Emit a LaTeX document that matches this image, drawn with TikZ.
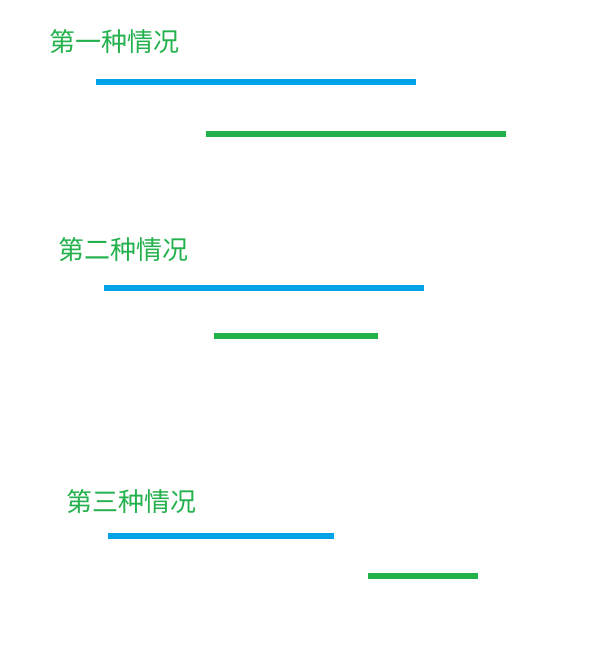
\documentclass[tikz,border=0pt]{standalone}
\usepackage{fontspec}
\newfontfamily\cjk{Noto Sans CJK SC}
\definecolor{lineblue}{HTML}{00A2E8}
\definecolor{linegreen}{HTML}{22B14C}
\begin{document}
\begin{tikzpicture}[x=0.75pt,y=-0.75pt,
  title/.style={inner sep=0pt,text=linegreen,font=\cjk\fontsize{19.5pt}{20pt}\selectfont},
  bar/.style={line width=4.5pt,line cap=butt},
  bluebar/.style={bar,draw=lineblue},
  greenbar/.style={bar,draw=linegreen}]
\useasboundingbox (0,0) rectangle (594,645);
\node[title] (t1) at (114,41.5) {第一种情况};
\node[title] (t2) at (123,250) {第二种情况};
\node[title] (t3) at (131.5,502) {第三种情况};
\coordinate (b1s) at (96,82);  \coordinate (b1e) at (416,82);
\coordinate (g1s) at (206,134); \coordinate (g1e) at (506,134);
\coordinate (b2s) at (104,288); \coordinate (b2e) at (424,288);
\coordinate (g2s) at (214,336); \coordinate (g2e) at (378,336);
\coordinate (b3s) at (108,536); \coordinate (b3e) at (334,536);
\coordinate (g3s) at (368,576); \coordinate (g3e) at (478,576);
\draw[bluebar] (b1s) -- (b1e);
\draw[greenbar] (g1s) -- (g1e);
\draw[bluebar] (b2s) -- (b2e);
\draw[greenbar] (g2s) -- (g2e);
\draw[bluebar] (b3s) -- (b3e);
\draw[greenbar] (g3s) -- (g3e);
\end{tikzpicture}
\end{document}
